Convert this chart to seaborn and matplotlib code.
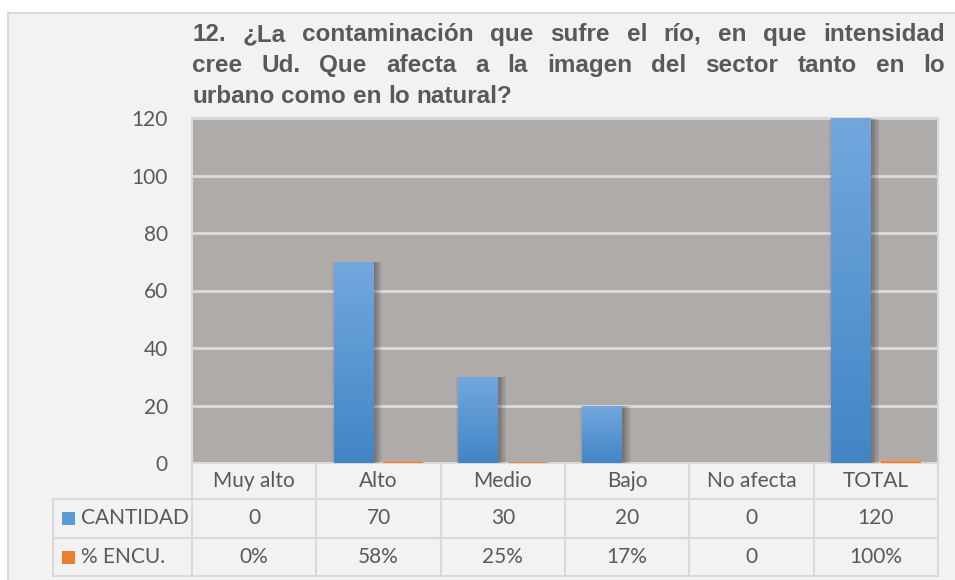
import numpy as np
import pandas as pd
import matplotlib
matplotlib.use("Agg")
import matplotlib.pyplot as plt
import seaborn as sns
from matplotlib import font_manager
from matplotlib.patches import Rectangle
from matplotlib.transforms import IdentityTransform
import matplotlib.patheffects as pe

# ---- data ----
categories = ["Muy alto", "Alto", "Medio", "Bajo", "No afecta", "TOTAL"]
cantidad = [0, 70, 30, 20, 0, 120]
encuesta = [0, 0.58, 0.25, 0.17, 0, 1.00]
cantidad_labels = ["0", "70", "30", "20", "0", "120"]
encuesta_labels = ["0%", "58%", "25%", "17%", "0", "100%"]
series_names = ["CANTIDAD", "% ENCU."]
y_ticks = [0, 20, 40, 60, 80, 100, 120]
title_lines = [
    "12. ¿La contaminación que sufre el río, en que intensidad",
    "cree Ud. Que afecta a la imagen del sector tanto en lo",
    "urbano como en lo natural?",
]

# ---- style ----
sns.set_style("white")
TEXT = "#595959"
GRID = "#dcdcdc"
BORDER = "#d9d9d9"
PLOT_BG = "#afaba9"
PAGE_BG = "#f2f2f2"
BLUE = "#5b9bd5"
ORANGE = "#ed7d31"
BLUE_GRAD = ("#72a8de", "#4285c6")
ORANGE_GRAD = ("#f5a565", "#e8722a")

installed = {f.name for f in font_manager.fontManager.ttflist}
body_font = "Lato" if "Lato" in installed else "DejaVu Sans"
title_font = "Liberation Sans" if "Liberation Sans" in installed else "DejaVu Sans"
plt.rcParams["font.family"] = [body_font, "DejaVu Sans"]
FS = 15

W, H = 955, 580
fig = plt.figure(figsize=(W / 100, H / 100), dpi=100)
fig.patch.set_facecolor("white")
# chart area panel
fig.patches.append(Rectangle((8 / W, -0.05), 1.1, 1 - 13 / H + 0.05,
                             transform=fig.transFigure, facecolor=PAGE_BG,
                             edgecolor=BORDER, linewidth=1.5, zorder=-5))

# plot area in pixels: x 192..938, y 118..463 (top..bottom)
L, R, T, B = 192, 938, 118, 463
ax = fig.add_axes([L / W, 1 - B / H, (R - L) / W, (B - T) / H])
ax.set_zorder(1)
ax.set_facecolor(PLOT_BG)

df = pd.DataFrame({
    "categoria": categories * 2,
    "valor": cantidad + encuesta,
    "serie": [series_names[0]] * len(categories) + [series_names[1]] * len(categories),
})
sns.barplot(data=df, x="categoria", y="valor", hue="serie", order=categories,
            hue_order=series_names, palette=[BLUE, ORANGE], width=0.8, gap=0.2,
            legend=False, ax=ax, zorder=3, linewidth=0)


def gradient(c_top, c_bot, n=256):
    top = np.array(matplotlib.colors.to_rgb(c_top))
    bot = np.array(matplotlib.colors.to_rgb(c_bot))
    t = np.linspace(0, 1, n)[:, None]
    return (top * (1 - t) + bot * t)[:, None, :]


# soft drop shadow built from several faint offset copies
soft_shadow = [pe.SimplePatchShadow(offset=(dx, -0.5), shadow_rgbFace="black", alpha=0.06)
               for dx in (-1.5, 1, 2, 3, 4, 5, 6)] + [pe.Normal()]

for cont, grad in zip(ax.containers, [BLUE_GRAD, ORANGE_GRAD]):
    img = gradient(*grad)
    for bar in cont:
        h = bar.get_height()
        if h <= 0:
            continue
        if h > 5:
            bar.set_path_effects(soft_shadow)
        x0 = bar.get_x()
        im = ax.imshow(img, extent=[x0, x0 + bar.get_width(), 0, h], aspect="auto",
                       zorder=3.5, interpolation="bilinear")
        im.set_clip_path(bar)

ax.set_xlim(-0.5, len(categories) - 0.5)
ax.set_ylim(0, 120)
ax.set_yticks(y_ticks)
ax.set_yticklabels([str(v) for v in y_ticks])
ax.tick_params(axis="y", length=0, pad=17.3, labelsize=FS, labelcolor=TEXT)
ax.set_xticks([])
ax.set_xlabel("")
ax.set_ylabel("")
ax.grid(axis="y", color=GRID, linewidth=2, zorder=1)
ax.set_axisbelow(True)
for s in ax.spines.values():
    s.set_color(BORDER)
    s.set_linewidth(1.5)

# ---- data table below the plot ----
def ay(py):
    return (B - py) / (B - T)


def axx(px):
    return (px - L) / (R - L)


rows_y = [ay(463), ay(499), ay(538), ay(576)]
left_x = axx(53)
line_kw = dict(color=BORDER, linewidth=1.5, clip_on=False, zorder=5)
tA = ax.transAxes
# horizontal rules
ax.plot([0, 1], [rows_y[1]] * 2, transform=tA, **line_kw)
for yy in rows_y[1:]:
    ax.plot([left_x, 1], [yy, yy], transform=tA, **line_kw)
# vertical rules
for i in range(len(categories) + 1):
    ax.plot([axx(L + i * (R - L) / len(categories))] * 2, [rows_y[0], rows_y[3]],
            transform=tA, **line_kw)
ax.plot([left_x, left_x], [rows_y[1], rows_y[3]], transform=tA, **line_kw)

bt = matplotlib.transforms.blended_transform_factory(ax.transData, ax.transAxes)
cell_kw = dict(ha="center", va="center", fontsize=FS, color=TEXT, clip_on=False)
for i, cat in enumerate(categories):
    ax.text(i, (rows_y[0] + rows_y[1]) / 2, cat, transform=bt, **cell_kw)
    ax.text(i, (rows_y[1] + rows_y[2]) / 2, cantidad_labels[i], transform=bt, **cell_kw)
    ax.text(i, (rows_y[2] + rows_y[3]) / 2, encuesta_labels[i], transform=bt, **cell_kw)

for k, (name, col) in enumerate(zip(series_names, [BLUE, ORANGE])):
    yc = (rows_y[k + 1] + rows_y[k + 2]) / 2
    sq_w, sq_h = 13 / (R - L), 13 / (B - T)
    ax.add_patch(Rectangle((axx(62), yc - sq_h / 2), sq_w, sq_h, transform=tA,
                           facecolor=col, edgecolor="none", clip_on=False, zorder=5))
    ax.text(axx(81), yc, name, transform=tA, ha="left", va="center", fontsize=FS,
            color=TEXT, clip_on=False)

# ---- justified title ----
fig.canvas.draw()
renderer = fig.canvas.get_renderer()
title_left, title_right = 192, 945
baselines = [41, 72, 103]
tkw = dict(fontsize=17.5, fontweight="bold", family=title_font, color=TEXT,
           ha="left", va="baseline", transform=IdentityTransform())
for li, line in enumerate(title_lines):
    words = line.split(" ")
    y = H - baselines[li]
    probe = fig.text(0, y, line, **tkw)
    full_w = probe.get_window_extent(renderer).width
    probe.remove()
    objs = [fig.text(0, y, w, **tkw) for w in words]
    widths = [o.get_window_extent(renderer).width for o in objs]
    if li < len(title_lines) - 1:
        gap = (title_right - title_left - sum(widths)) / (len(words) - 1)
    else:
        gap = (full_w - sum(widths)) / (len(words) - 1)
    x = title_left
    for o, w in zip(objs, widths):
        o.set_x(x)
        x += w + gap

fig.savefig("out.png", dpi=100, facecolor=fig.get_facecolor())
